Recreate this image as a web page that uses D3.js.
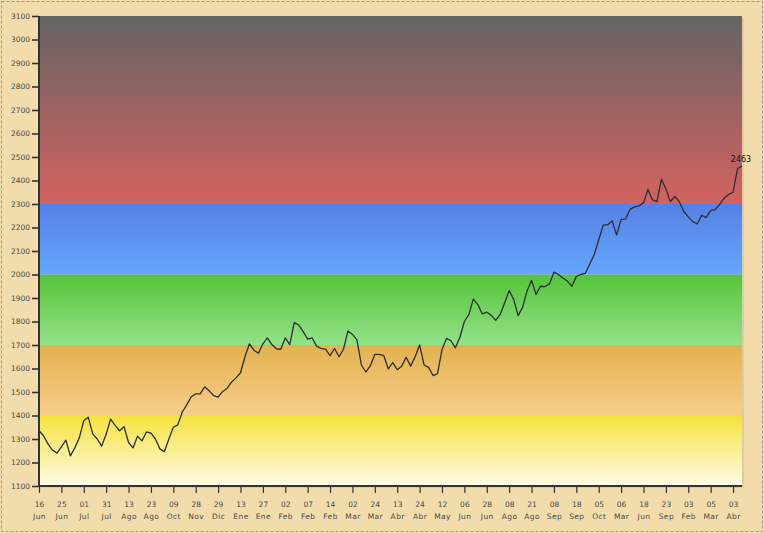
<!DOCTYPE html>
<html>
<head>
<meta charset="utf-8">
<script src="https://cdn.jsdelivr.net/npm/d3@7/dist/d3.min.js"></script>
<style>
  body { margin: 0; background: #f3dcab; }
  svg { display: block; }
  .axis text { font: 7.5px "DejaVu Sans", sans-serif; fill: #4a4a4a; }
  .axis path, .axis line { stroke: #333; }
</style>
</head>
<body>
<div id="chart"></div>
<script>
var width = 764, height = 533

// tick labels of the bottom axis (one every 5 points)
var days = ["16","25","01","31","13","23","09","28","29","13","27","02","07","14","02","24",
            "13","24","12","06","28","08","21","08","18","05","06","18","23","03","05","03"]
var months = ["Jun","Jun","Jul","Jul","Ago","Ago","Oct","Nov","Dic","Ene","Ene","Feb","Feb","Feb","Mar","Mar",
              "Abr","Abr","May","Jun","Jun","Ago","Ago","Sep","Sep","Oct","Mar","Jun","Sep","Feb","Mar","Abr"]

// band limits of the background
var bandEdges = [1100, 1400, 1700, 2000, 2300, 3100]

// series values
var values = [
  1336,1314,1279,1253,1240,1267,1295,1228,1262,1305,
  1378,1393,1322,1300,1270,1320,1385,1358,1335,1352,
  1285,1262,1312,1292,1330,1325,1300,1258,1246,1300,
  1350,1360,1415,1445,1480,1492,1492,1522,1505,1485,
  1478,1502,1515,1542,1560,1582,1650,1705,1678,1665,
  1705,1730,1702,1684,1682,1730,1702,1795,1785,1757,
  1725,1730,1695,1685,1682,1655,1685,1650,1682,1760,
  1745,1722,1615,1585,1612,1660,1660,1655,1598,1625,
  1595,1610,1648,1610,1650,1700,1615,1605,1570,1578,
  1680,1728,1718,1688,1733,1800,1830,1895,1872,1832,
  1840,1826,1805,1830,1880,1932,1895,1825,1860,1930,
  1975,1915,1950,1948,1960,2010,2000,1985,1972,1950,
  1992,2000,2005,2045,2085,2147,2210,2212,2228,2168,
  2235,2236,2277,2288,2292,2305,2362,2318,2310,2405,
  2365,2310,2332,2310,2268,2245,2225,2215,2252,2242,
  2272,2276,2298,2325,2340,2350,2450,2463
]

var bandColors = [
  ["#f6e23c", "#fffbe8"],
  ["#e2b24e", "#f8ce8b"],
  ["#55c43a", "#93e28a"],
  ["#5580e6", "#65a7fc"],
  ["#646464", "#d3625f"]
]

var margin = {top: 16, right: 22, bottom: 47, left: 39}
var w = width - margin.left - margin.right,
    h = height - margin.top - margin.bottom

var svg = d3.select("#chart").append("svg")
    .attr("width", width)
    .attr("height", height)

// dashed frame
svg.append("rect")
    .attr("x", 1.5).attr("y", 1.5)
    .attr("width", width - 3).attr("height", height - 3)
    .attr("fill", "#f3dcab")
    .attr("stroke", "#9a9a9a")
    .attr("stroke-dasharray", "3,2")

var g = svg.append("g")
    .attr("transform", "translate(" + margin.left + "," + margin.top + ")")

var x = d3.scaleLinear().domain([0, values.length - 1]).range([0, w])
var y = d3.scaleLinear().domain([1100, 3100]).range([h, 0])

var defs = svg.append("defs")
bandColors.forEach(function(c, i) {
    var grad = defs.append("linearGradient")
        .attr("id", "band" + i)
        .attr("x1", 0).attr("y1", 0).attr("x2", 0).attr("y2", 1)
    grad.append("stop").attr("offset", "0%").attr("stop-color", c[0])
    grad.append("stop").attr("offset", "100%").attr("stop-color", c[1])
})

// plot shadow
g.append("rect")
    .attr("x", 2).attr("y", 2)
    .attr("width", w).attr("height", h)
    .attr("fill", "#e4caa0")

g.selectAll("rect.band")
    .data(d3.range(bandEdges.length - 1))
    .enter().append("rect")
    .attr("class", "band")
    .attr("x", 0)
    .attr("width", w)
    .attr("y", function(i) { return y(bandEdges[i + 1]) })
    .attr("height", function(i) { return y(bandEdges[i]) - y(bandEdges[i + 1]) })
    .attr("fill", function(i) { return "url(#band" + i + ")" })

var line = d3.line()
    .x(function(d, i) { return x(i) })
    .y(function(d) { return y(d) })

g.append("path")
    .datum(values)
    .attr("fill", "none")
    .attr("stroke", "#2e2e2e")
    .attr("stroke-width", 1.3)
    .attr("stroke-linejoin", "round")
    .attr("d", line)

var last = values.length - 1
g.append("text")
    .attr("x", x(last) - 1)
    .attr("y", y(values[last]) - 4)
    .attr("text-anchor", "middle")
    .style("font", "8px 'DejaVu Sans', sans-serif")
    .attr("fill", "#111")
    .text(values[last])

// y axis
var yAxis = d3.axisLeft(y)
    .tickValues(d3.range(1100, 3101, 100))
    .tickSize(7)
    .tickPadding(2)
    .tickFormat(d3.format("d"))

g.append("g")
    .attr("class", "axis")
    .call(yAxis)
    .call(function(s) {
        s.select(".domain").attr("stroke-width", 2).attr("d", "M0,0V" + h)
        s.selectAll(".tick line").attr("stroke-width", 1.6)
    })

// x axis
var tickIdx = d3.range(days.length).map(function(k) { return k * 5 })
var xAxis = d3.axisBottom(x)
    .tickValues(tickIdx)
    .tickSize(7)
    .tickFormat("")

var xg = g.append("g")
    .attr("class", "axis")
    .attr("transform", "translate(0," + h + ")")
    .call(xAxis)
    .call(function(s) {
        s.select(".domain").attr("stroke-width", 2).attr("d", "M0,0H" + w)
        s.selectAll(".tick line").attr("stroke-width", 1.2)
    })

xg.selectAll(".tick").each(function(d, k) {
    var t = d3.select(this)
    t.append("text").attr("y", 21).attr("text-anchor", "middle").text(days[k])
    t.append("text").attr("y", 33).attr("text-anchor", "middle")
        .style("letter-spacing", "0.4px").text(months[k])
})
</script>
</body>
</html>
